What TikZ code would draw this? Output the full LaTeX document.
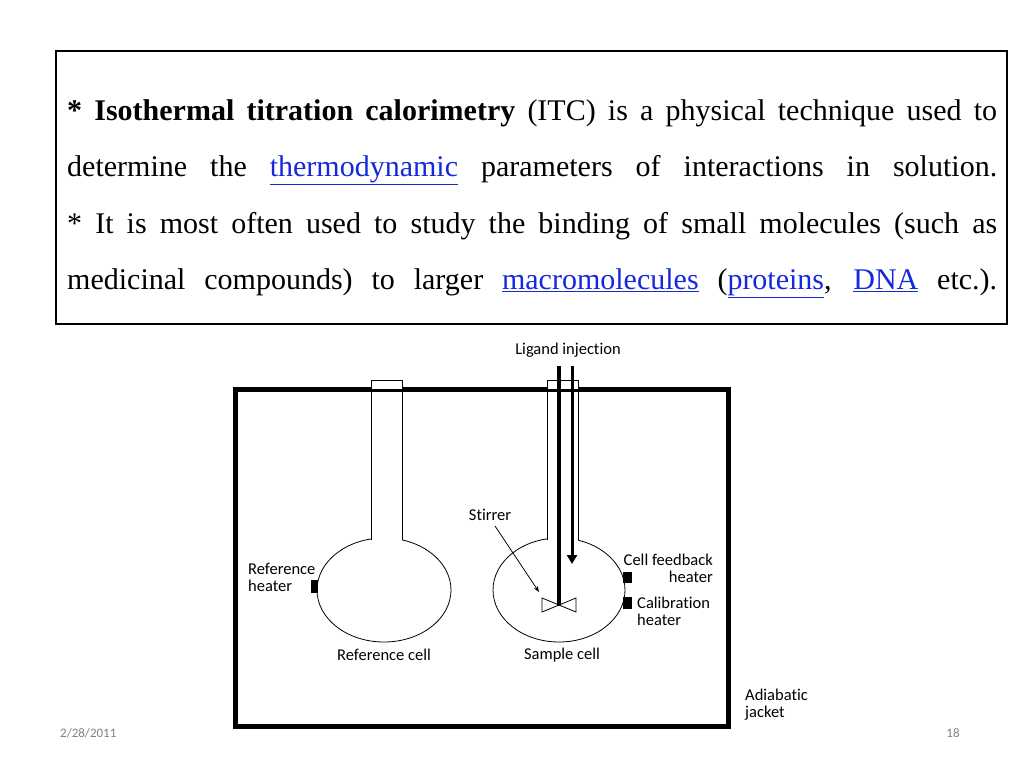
\documentclass[tikz,border=0pt]{standalone}
\usepackage{fontspec}
\setmainfont{Liberation Serif}
\newfontfamily\lab[Ligatures=NoCommon]{Carlito}
\usetikzlibrary{arrows.meta}
\definecolor{lk}{RGB}{20,40,220}
\newcommand{\lnk}[1]{\textcolor{lk}{\underline{#1}}}
\begin{document}
\begin{tikzpicture}[x=1pt,y=-1pt,
  lb/.style={font=\lab\fontsize{16.5}{17}\selectfont,inner sep=0pt},
  thinl/.style={line width=0.8pt}]
\useasboundingbox (0,0) rectangle (1024,768);
\draw[line width=2pt] (56,51) rectangle (1007,324);
\node[anchor=north west,inner sep=0pt,text width=930pt,align=justify,
  font=\fontsize{30}{56.5}\selectfont] (txt) at (67,99)
 {\parfillskip=0pt \textbf{* Isothermal titration calorimetry} (ITC) is a physical technique used to\linebreak
 determine the \lnk{thermodynamic} parameters of interactions in solution.\linebreak
 * It is most often used to study the binding of small molecules (such as\linebreak
 medicinal compounds) to larger \lnk{macromolecules} (\lnk{proteins}, \lnk{DNA} etc.).\par};
% jacket
\draw[line width=5pt] (235,389) rectangle (728,726);
% reference flask
\draw[thinl] (384,590) ellipse[x radius=67, y radius=52];
\fill[white] (371.5,530) rectangle (401.5,545);
\draw[thinl,fill=white] (371,380) rectangle (402,389);
\draw[thinl] (371,389) -- (371,539.5);
\draw[thinl] (402,389) -- (402,539.5);
% sample flask
\draw[thinl] (559,590) ellipse[x radius=66, y radius=52];
\fill[white] (547.5,530) rectangle (577.5,545);
\draw[thinl,fill=white] (547,380) rectangle (578,389);
\draw[thinl] (547,389) -- (547,539.5);
\draw[thinl] (578,389) -- (578,539.5);
% rod and injection arrow
\draw[line width=3.5pt] (559,366) -- (559,606);
\draw[line width=3pt,-{Triangle[length=9pt,width=10pt]}] (572,366) -- (572,564);
% stirrer
\draw[thinl] (542,598) -- (542,612) -- (559,605) -- cycle;
\draw[thinl] (576,598) -- (576,612) -- (559,605) -- cycle;
\coordinate (stt) at (539,592);
\node[lb] (stirrer) at (490,515) {Stirrer};
\draw[thinl,-{Stealth[length=6pt]}] (495,526) -- (stt);
% heaters
\fill (311,580) rectangle (318,593);
\fill (623,572) rectangle (632,583);
\fill (623,597) rectangle (632,609);
% labels
\node[lb] (lig) at (568,350) {Ligand injection};
\node[lb,anchor=west,align=left] (rh) at (248,577) {Reference\\heater};
\node[lb,anchor=east,align=right] (cfh) at (713,568.5) {Cell feedback\\heater};
\node[lb,anchor=west,align=left] (ch) at (637,611.5) {Calibration\\heater};
\node[lb] (rc) at (384,655) {Reference cell};
\node[lb] (sc) at (562,655) {Sample cell};
\node[lb,anchor=west,align=left] (aj) at (745,704.5) {Adiabatic\\jacket};
\node[inner sep=0pt,anchor=west,font=\lab\fontsize{13}{15}\selectfont,text=gray] (date) at (60,733) {2/28/2011};
\node[inner sep=0pt,font=\lab\fontsize{13}{15}\selectfont,text=gray] (pg) at (953,733) {18};
\end{tikzpicture}
\end{document}
